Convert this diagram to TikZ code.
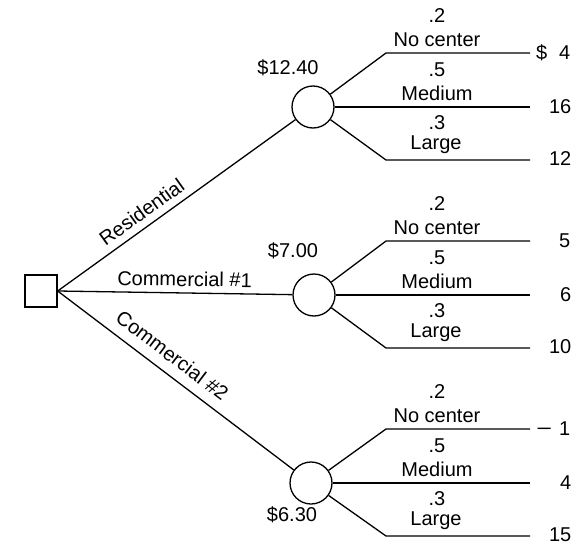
\documentclass[tikz,border=0pt]{standalone}
\usepackage{graphicx}
\usepackage{fontspec}
\setmainfont{Liberation Sans}
\begin{document}
\begin{tikzpicture}[x=1pt,y=-1pt,
  line width=1.3pt,
  every node/.style={font=\fontsize{20}{23}\selectfont, inner sep=0pt},
  decision/.style={draw, rectangle, minimum size=32pt},
  chance/.style={draw, circle, minimum size=42pt},
  pay/.style={anchor=east},
  branchlab/.style={sloped, above=#1},
  branchlab/.default=7pt]
\useasboundingbox (0,0) rectangle (576,546);

% decision node
\node[decision] (d) at (41,291) {};

% chance nodes with their three outcome branches
\foreach \n/\cx/\cy/\pa/\pb/\pc in {
    c1/313/107/{\$\hspace{12pt}4}/16/12,
    c2/314/295/5/6/10,
    c3/311/483/{\scalebox{1.35}[1]{−}\hspace{7pt}1}/4/15}{
  \node[chance] (\n) at (\cx,\cy) {};
  \coordinate (\n-ua) at (386,\cy-54);
  \coordinate (\n-ue) at (530,\cy-54);
  \coordinate (\n-me) at (530,\cy);
  \coordinate (\n-la) at (386,\cy+53);
  \coordinate (\n-le) at (530,\cy+53);
  \draw (\n) -- (\n-ua) -- (\n-ue);
  \draw (\n) -- (\n-me);
  \draw (\n) -- (\n-la) -- (\n-le);
  \node[pay] (\n-v1) at (571,\cy-54) {\pa};
  \node[pay] (\n-v2) at (572,\cy) {\pb};
  \node[pay] (\n-v3) at (572,\cy+52) {\pc};
  \node (\n-p1) at (437,\cy-91) {.2};
  \node (\n-o1) at (437,\cy-67) {No center};
  \node (\n-p2) at (437,\cy-37) {.5};
  \node (\n-o2) at (437,\cy-14) {Medium};
  \node (\n-p3) at (437,\cy+16) {.3};
  \node (\n-o3) at (436,\cy+38) {Large};
}

% expected values
\node (ev1) at (288,68) {\$12.40};
\node (ev2) at (293,251) {\$7.00};
\node (ev3) at (292,515) {\$6.30};

% decision branches
\draw (d.east) -- (c1) node[branchlab, pos=0.39] {Residential};
\draw (d.east) -- (c2) node[branchlab=6pt, pos=0.54] {Commercial \#1};
\draw (d.east) -- (c3) node[branchlab=10pt, pos=0.44] {Commercial \#2};
\end{tikzpicture}
\end{document}
